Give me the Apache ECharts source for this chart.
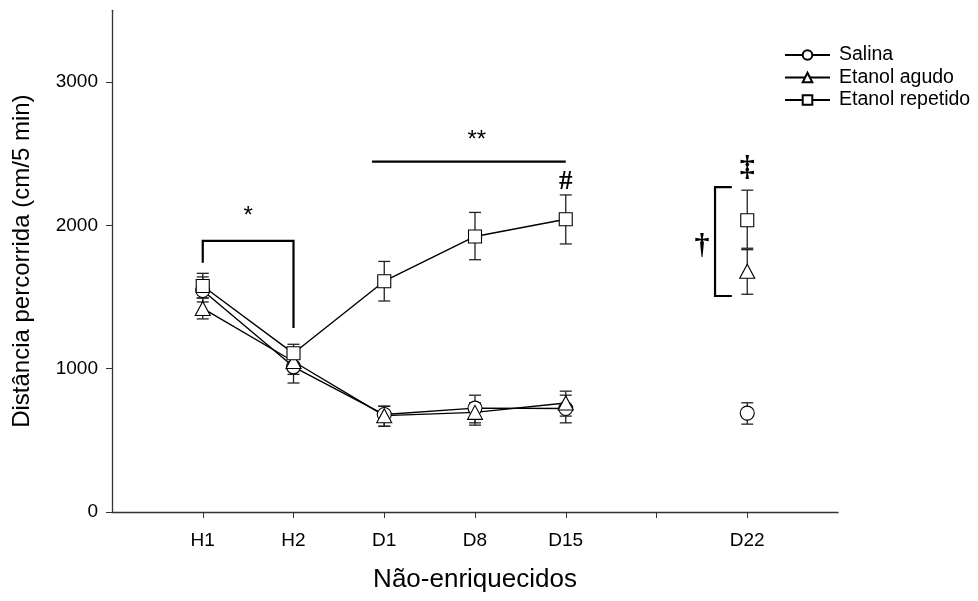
<!DOCTYPE html>
<html><head><meta charset="utf-8">
<script src="https://cdn.jsdelivr.net/npm/echarts@6/dist/echarts.min.js"></script>
<style>html,body{margin:0;padding:0;background:#fff}#c{width:978px;height:601px}</style>
</head><body><div id="c"></div>
<script>
// category positions on the x axis (6 is an empty slot before D22)
const categories = ['H1','H2','D1','D8','D15','','D22'];
const xPos = [1,2,3,4,5,6,7];
const yTicks = [0,1000,2000,3000];

// means (null = no point)
const salina     = [1545, 1013, 680, 725, 722, null, 690];
const agudo      = [1420, 1050, 672, 695, 760, null, 1680];
const repetido   = [1577, 1107, 1610, 1922, 2042, null, 2035];
// error bar low / high
const salinaLo   = [1465, 900, 598, 622, 622, null, 613];
const salinaHi   = [1640, 1125, 738, 815, 815, null, 762];
const agudoLo    = [1347, 960, 598, 606, 669, null, 1519];
const agudoHi    = [1493, 1140, 738, 762, 843, null, 1830];
const repetidoLo = [1493, 1040, 1472, 1760, 1870, null, 1840];
const repetidoHi = [1665, 1170, 1748, 2090, 2212, null, 2245];

const names = ['Salina','Etanol agudo','Etanol repetido'];
const symbols = ['circle','triangle','rect'];
const means = [salina, agudo, repetido];
const lows = [salinaLo, agudoLo, repetidoLo];
const highs = [salinaHi, agudoHi, repetidoHi];

const FONT = 'Liberation Sans, Arial, sans-serif';
const SERIF = 'Liberation Serif, serif';
const chart = echarts.init(document.getElementById('c'));

function toPairs(arr){ return arr.map((v,i)=>[xPos[i], v==null?'-':v]); }
function errData(lo,hi){ const d=[]; lo.forEach((v,i)=>{ if(v!=null) d.push([xPos[i], v, hi[i]]); }); return d; }

const series = [];
names.forEach((n,k)=>{
  series.push({
    type:'custom', name:n+'_err', silent:true, z:1,
    data: errData(lows[k], highs[k]),
    renderItem:(params, api)=>{
      const x=api.value(0);
      const p1=api.coord([x, api.value(1)]), p2=api.coord([x, api.value(2)]);
      const hw=6;
      const st={stroke:'#222', lineWidth:1.3};
      return {type:'group', children:[
        {type:'line', shape:{x1:p1[0],y1:p1[1],x2:p2[0],y2:p2[1]}, style:st},
        {type:'line', shape:{x1:p1[0]-hw,y1:p1[1],x2:p1[0]+hw,y2:p1[1]}, style:st},
        {type:'line', shape:{x1:p2[0]-hw,y1:p2[1],x2:p2[0]+hw,y2:p2[1]}, style:st}
      ]};
    }
  });
});
names.forEach((n,k)=>{
  series.push({
    type:'line', name:n, data: toPairs(means[k]), z:3,
    symbol: symbols[k], symbolSize: symbols[k]==='triangle'?[15,14]:(symbols[k]==='rect'?13:14),
    showAllSymbol:true, connectNulls:false,
    lineStyle:{color:'#000', width:1.4},
    itemStyle:{color:'#fff', borderColor:'#000', borderWidth:1.1},
    emphasis:{disabled:true}
  });
});

chart.setOption({
  animation:false,
  backgroundColor:'#fff',
  grid:{left:112, right:140, top:10.3, bottom:89},
  legend:{
    data: names, orient:'vertical', left:779, top:40,
    itemWidth:45, itemHeight:12, itemGap:2.5,
    textStyle:{fontFamily:FONT, fontSize:19.5, lineHeight:20, color:'#000', padding:[0,0,0,4]},
    inactiveColor:'#000'
  },
  xAxis:{
    type:'value', min:0, max:8, interval:1,
    name:'Não-enriquecidos', nameLocation:'middle', nameGap:55,
    nameTextStyle:{fontFamily:FONT, fontSize:26, color:'#000'},
    axisLine:{onZero:false, lineStyle:{color:'#333', width:1.3}},
    axisTick:{customValues:xPos, length:6, lineStyle:{color:'#333'}},
    axisLabel:{customValues:xPos.filter((v,i)=>categories[i]!==''), margin:19,
      fontFamily:FONT, fontSize:19, color:'#000',
      formatter:(v)=>categories[xPos.indexOf(v)]||''},
    splitLine:{show:false}
  },
  yAxis:{
    type:'value', min:0, max:3500, interval:1000,
    name:'Distância percorrida (cm/5 min)', nameLocation:'middle', nameGap:78,
    nameTextStyle:{fontFamily:FONT, fontSize:24, color:'#000'},
    axisLine:{show:true, lineStyle:{color:'#333', width:1.3}},
    axisTick:{show:true, customValues:yTicks, length:6, lineStyle:{color:'#333'}},
    axisLabel:{customValues:yTicks, margin:14, fontFamily:FONT, fontSize:19, color:'#000',
      formatter:(v)=>String(v)},
    splitLine:{show:false}
  },
  series: series
});

// annotations positioned through the chart's own coordinate conversion
function px(x,y){ return chart.convertToPixel({gridIndex:0},[x,y]); }
const g=[];
const lineStyle={stroke:'#000', lineWidth:2.2, fill:null};
// bracket H1-H2 with *
let a=px(1,1739), b=px(1,1891), c=px(2,1891), d=px(2,1284);
g.push({type:'polyline', shape:{points:[a,b,c,d]}, style:lineStyle, z:5});
let t=px(1.5,2060);
g.push({type:'text', x:t[0], y:t[1], style:{text:'*', fontFamily:FONT, fontSize:24, fill:'#000', align:'center', verticalAlign:'middle'}, z:5});
// ** line D1-D15
a=px(2.865,2444); b=px(5,2444);
g.push({type:'line', shape:{x1:a[0],y1:a[1],x2:b[0],y2:b[1]}, style:lineStyle, z:5});
t=px(4.02,2595);
g.push({type:'text', x:t[0], y:t[1], style:{text:'**', fontFamily:FONT, fontSize:24, fill:'#000', align:'center', verticalAlign:'middle'}, z:5});
// #
t=px(5,2302);
g.push({type:'text', x:t[0], y:t[1], style:{text:'#', fontFamily:SERIF, fontSize:27, fontWeight:'bold', fill:'#000', align:'center', verticalAlign:'middle'}, z:5});
// D22 bracket
a=px(6.83,2267); b=px(6.645,2267); c=px(6.645,1507); d=px(6.83,1507);
g.push({type:'polyline', shape:{points:[a,b,c,d]}, style:lineStyle, z:5});
t=px(7,2400);
g.push({type:'text', x:t[0], y:t[1], style:{text:'‡', fontFamily:SERIF, fontSize:30, fontWeight:'bold', fill:'#000', align:'center', verticalAlign:'middle'}, z:5});
t=px(6.5,1856);
g.push({type:'text', x:t[0], y:t[1], style:{text:'†', fontFamily:SERIF, fontSize:30, fontWeight:'bold', fill:'#000', align:'center', verticalAlign:'middle'}, z:5});
chart.setOption({graphic:g});
</script>
</body></html>
